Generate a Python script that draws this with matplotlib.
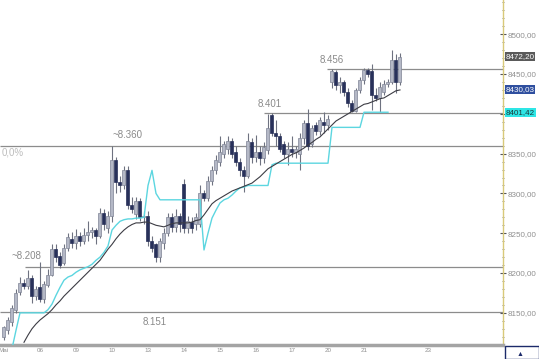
import numpy as np
import matplotlib
matplotlib.use("Agg")
import matplotlib.pyplot as plt

plt.rcParams["font.family"] = ["Liberation Sans", "DejaVu Sans"]

# --- hourly candles (open, high, low, close) ---
opens = [8120, 8128, 8138, 8153, 8176, 8188, 8184, 8194, 8171,
         8182, 8168, 8185, 8198, 8230, 8222, 8212, 8232, 8243,
         8238, 8246, 8240, 8248, 8252, 8254, 8246, 8276, 8256,
         8272, 8342, 8314, 8310, 8330, 8286, 8274, 8290, 8270,
         8272, 8240, 8236, 8220, 8238, 8250, 8270, 8258, 8272,
         8312, 8256, 8264, 8262, 8262, 8300, 8294, 8316, 8330,
         8340, 8350, 8356, 8366, 8352, 8340, 8330, 8322, 8364,
         8346, 8352, 8344, 8354, 8398, 8376, 8372, 8362, 8350,
         8356, 8352, 8350, 8370, 8388, 8362, 8386, 8378, 8390,
         8386, 8440, 8452, 8436, 8440, 8428, 8414, 8404, 8430,
         8442, 8455, 8454, 8424, 8420, 8428, 8438, 8440, 8467, 8440]
highs = [8134, 8145, 8160, 8180, 8195, 8192, 8204, 8198, 8184,
         8214, 8190, 8205, 8236, 8236, 8226, 8236, 8250, 8252,
         8255, 8252, 8256, 8266, 8258, 8256, 8282, 8280, 8278,
         8360, 8346, 8322, 8334, 8334, 8296, 8296, 8294, 8278,
         8278, 8246, 8238, 8244, 8256, 8276, 8276, 8280, 8276,
         8318, 8272, 8270, 8276, 8310, 8304, 8322, 8334, 8348,
         8372, 8366, 8372, 8370, 8360, 8344, 8334, 8376, 8370,
         8374, 8360, 8364, 8400, 8401, 8392, 8376, 8366, 8364,
         8372, 8360, 8376, 8392, 8406, 8386, 8390, 8396, 8402,
         8398, 8456, 8455, 8446, 8442, 8432, 8418, 8432, 8446,
         8458, 8458, 8462, 8432, 8440, 8442, 8444, 8480, 8475, 8476]
lows = [8116, 8124, 8134, 8150, 8172, 8180, 8180, 8162, 8166,
        8164, 8162, 8182, 8196, 8214, 8206, 8210, 8228, 8232,
        8230, 8234, 8236, 8240, 8244, 8236, 8244, 8254, 8250,
        8264, 8300, 8302, 8305, 8280, 8276, 8268, 8265, 8262,
        8234, 8226, 8214, 8214, 8230, 8246, 8252, 8252, 8252,
        8250, 8250, 8250, 8254, 8258, 8290, 8290, 8310, 8324,
        8334, 8344, 8350, 8344, 8334, 8322, 8302, 8320, 8338,
        8340, 8336, 8338, 8350, 8372, 8360, 8352, 8344, 8336,
        8346, 8344, 8330, 8362, 8354, 8358, 8374, 8374, 8376,
        8380, 8432, 8430, 8426, 8422, 8408, 8402, 8402, 8426,
        8438, 8446, 8405, 8416, 8402, 8424, 8434, 8438, 8426, 8436]
closes = [8132, 8141, 8156, 8175, 8188, 8184, 8194, 8171, 8180,
          8168, 8186, 8198, 8230, 8220, 8210, 8232, 8245, 8238,
          8246, 8240, 8248, 8252, 8254, 8246, 8276, 8262, 8272,
          8342, 8314, 8310, 8330, 8286, 8280, 8290, 8270, 8272,
          8240, 8232, 8220, 8240, 8250, 8270, 8258, 8272, 8262,
          8256, 8266, 8256, 8270, 8300, 8294, 8316, 8330, 8342,
          8352, 8362, 8366, 8350, 8340, 8330, 8322, 8366, 8346,
          8352, 8344, 8358, 8382, 8376, 8372, 8356, 8350, 8356,
          8352, 8356, 8370, 8388, 8360, 8382, 8378, 8392, 8386,
          8394, 8454, 8436, 8440, 8428, 8414, 8404, 8430, 8442,
          8455, 8450, 8424, 8420, 8434, 8438, 8440, 8467, 8440, 8472]

# moving average (dark line), one value per candle
ma = [np.nan] * 5 + [8113, 8122, 8130, 8136,
      8141, 8145, 8149, 8154, 8160, 8165, 8171, 8176, 8181,
      8186, 8191, 8196, 8201, 8206, 8211, 8216, 8223, 8230,
      8236, 8243, 8249, 8254, 8258, 8261, 8263, 8263, 8264,
      8264, 8262, 8260, 8259, 8258, 8260, 8262, 8263, 8263,
      8263, 8263, 8264, 8266, 8267, 8273, 8280, 8287, 8291,
      8294, 8297, 8300, 8303, 8305, 8307, 8309, 8311, 8313,
      8317, 8321, 8326, 8331, 8334, 8337, 8340, 8343, 8346,
      8349, 8351, 8354, 8357, 8361, 8364, 8368, 8371, 8376,
      8381, 8386, 8391, 8394, 8397, 8400, 8403, 8406, 8409,
      8412, 8413, 8415, 8417, 8419, 8420, 8423, 8426, 8429, 8430]

# cyan trailing stop line
trail = [np.nan] * 2 + [8105, 8128, 8150, 8150, 8150, 8150, 8150,
         8150, 8150, 8154, 8161, 8172, 8182, 8191, 8195, 8197,
         8201, 8204, 8206, 8208, 8211, 8216, 8220, 8226, 8234,
         8254, 8260, 8265, 8267, 8268, 8268, 8269, 8269, 8270,
         8310, 8329, 8300, 8292, 8292, 8292, 8292, 8292, 8292,
         8292, 8292, 8292, 8292, 8292, 8229, 8250, 8269, 8279,
         8288, 8292, 8294, 8298, 8303, 8307, 8308, 8310, 8310,
         8310, 8310, 8310, 8310, 8336, 8338, 8338, 8338, 8338,
         8338, 8338, 8338, 8338, 8338, 8338, 8338, 8338, 8338,
         8338, 8383, 8383, 8383, 8383, 8383, 8383, 8383, 8383,
         8402, 8402, 8402, 8402, 8402, 8402, 8402] + [np.nan] * 3

# horizontal levels: price, start index, label, label position
levels = [8456, 8401, 8360, 8208, 8151]
level_start = [80.75, 65, -1, 5.25, -1]
level_text = ["8.456", "8.401", "~8.360", "~8.208", "8.151"]
level_text_pos = [(79, 8467), (63.5, 8412), (27.25, 8373), (2, 8222), (34.75, 8138)]

day_pos = [0, 9, 18, 27, 36, 45, 54, 63, 72, 81, 90, 106]
day_labels = ["Mai", "06", "09", "10", "13", "14", "15", "16", "17", "20", "21", "23"]

price_ticks = [8150, 8200, 8250, 8300, 8350, 8400, 8450, 8500]
last_values = [8472.20, 8430.03, 8401.42]
last_colors = ["#5a5a5a", "#2f4f9f", "#2ee6e6"]
last_text_colors = ["white", "white", "#1a3a3a"]

fig = plt.figure(figsize=(5.39, 3.59), dpi=100)
ax = fig.add_axes([0, 14 / 359, 503 / 539, 345 / 359])
ax.set_xlim(-1, 124.75)
ax.set_ylim(8109.6, 8543)

x = np.arange(len(opens))
o = np.array(opens)
c = np.array(closes)
up = c >= o

ax.vlines(x, lows, highs, color="#6e7280", lw=0.8, zorder=2)
bottom = np.minimum(o, c)
height = np.maximum(np.abs(c - o), 1.2)
ax.bar(x[up], height[up], bottom=bottom[up], width=0.75,
       color="#b4b8c6", edgecolor="#7f8496", lw=0.5, zorder=3)
ax.bar(x[~up], height[~up], bottom=bottom[~up], width=0.75,
       color="#28315a", edgecolor="#28315a", lw=0.5, zorder=3)

ax.plot(x, trail, color="#5cd6e0", lw=1.0, zorder=4)
ax.plot(x, ma, color="#3c3c44", lw=0.8, zorder=4)

for lvl, xs, txt, (tx, ty) in zip(levels, level_start, level_text, level_text_pos):
    ax.hlines(lvl, xs, 124.75, color="#8c8c8c", lw=0.9, zorder=1)
    ax.text(tx, ty, txt, fontsize=7, color="#8a8a8a", va="center", ha="left")
ax.text(-0.6, 8352, "0,0%", fontsize=7, color="#bdbdbd", va="center", ha="left")

# right price scale
for side in ["top", "left"]:
    ax.spines[side].set_visible(False)
ax.spines["right"].set_color("#d8c97a")
ax.spines["right"].set_linestyle((0, (1, 1)))
ax.spines["right"].set_linewidth(1.0)
ax.spines["bottom"].set_color("#a4a4a4")
ax.spines["bottom"].set_linewidth(2.5)

ax.yaxis.tick_right()
ax.set_yticks(price_ticks)
ax.set_yticklabels(["" if p == 8400 else f"{p},00" for p in price_ticks])
ax.set_yticks(np.arange(8120, 8541, 10), minor=True)
ax.tick_params(axis="y", which="major", direction="inout", length=4, width=0.8,
               color="#555555", labelsize=5.8, labelcolor="#8f8f8f", pad=1)
ax.tick_params(axis="y", which="minor", direction="inout", length=1.5, width=0.6,
               color="#777777")

ax.set_xticks(day_pos)
ax.set_xticklabels(day_labels)
ax.tick_params(axis="x", length=0, labelsize=4.5, labelcolor="#8f8f8f", pad=2)

for val, bg, fg in zip(last_values, last_colors, last_text_colors):
    ax.text(1.005, val, f"{val:.2f}".replace(".", ","), transform=ax.get_yaxis_transform(),
            fontsize=5.8, color=fg, va="center", ha="left", clip_on=False, zorder=6,
            bbox=dict(boxstyle="square,pad=0.12", fc=bg, ec="none"))

# corner box at bottom right
fig.patches.append(plt.Rectangle((505 / 539, 0), 34 / 539, 13 / 359, transform=fig.transFigure,
                                 fc="white", ec="#1c2a6a", lw=1.0))
fig.text(520 / 539, 5 / 359, "\u25b2", fontsize=5, color="#1c2a6a", ha="center", va="center")

fig.savefig("out.png", dpi=100)
